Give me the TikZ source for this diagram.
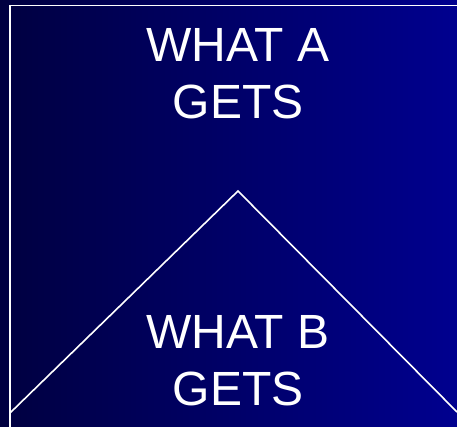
\documentclass[tikz,border=0pt]{standalone}
\usepackage{fontspec}
\setmainfont{Liberation Sans}
\usetikzlibrary{positioning}
\definecolor{navyL}{HTML}{000040}
\definecolor{navyR}{HTML}{00008F}

\begin{document}
\begin{tikzpicture}[x=1pt,y=-1pt,
  gets/.style={text=white,font=\fontsize{48}{57}\selectfont,align=center,inner sep=0pt,anchor=north},
  frame/.style={draw=white,line width=1.8pt}]
% background
\shade[left color=navyL,right color=navyR] (0,0) rectangle (457,427);
\useasboundingbox (0,0) rectangle (457,427);
% frame
\draw[frame] (10,427) -- (10,5.5) -- (457,5.5);
% the split
\coordinate (apex) at (238,191);
\coordinate (lft) at (10,413);
\coordinate (rgt) at (457,412);
\draw[draw=white,line width=1.6pt] (lft) -- (apex) -- (rgt);
\node[gets] (ga) at (238,28) {WHAT A\\GETS};
\node[gets] (gb) at (238,315) {WHAT B\\GETS};
\end{tikzpicture}
\end{document}
